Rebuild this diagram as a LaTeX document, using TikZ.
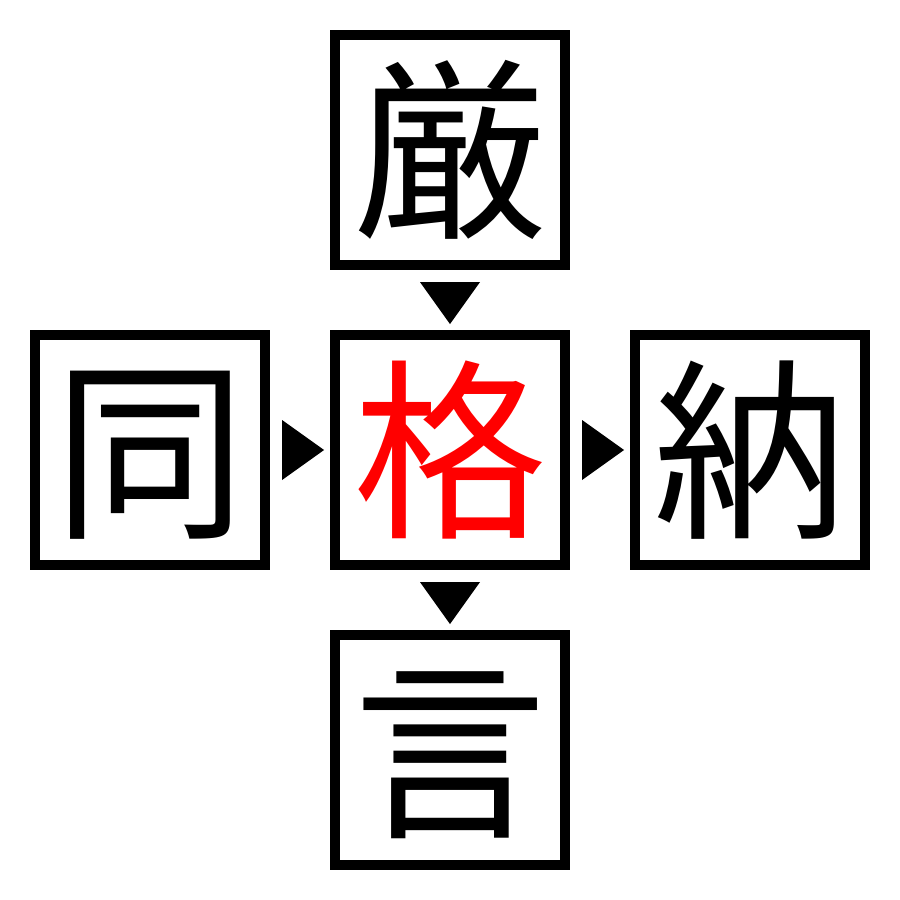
\documentclass[tikz,border=0pt]{standalone}
\usepackage{fontspec}
\usetikzlibrary{calc}
\newfontfamily\cjk{Noto Sans CJK JP}
\begin{document}
\begin{tikzpicture}[x=0.01cm,y=-0.01cm,
  kbox/.style={draw=black,line width=0.1cm,minimum size=2.3cm,inner sep=0pt,outer sep=0pt,
    font=\cjk\fontsize{55}{55}\selectfont,text height=48.4pt,text depth=6.6pt},
  tri/.style={fill=black,draw=none}]
\useasboundingbox (0,0) rectangle (900,900);
\node[kbox] (t) at (450,150) {厳};
\node[kbox] (l) at (150,450) {同};
\node[kbox,text=red] (c) at (450,450) {格};
\node[kbox] (r) at (750,450) {納};
\node[kbox] (b) at (450,750) {言};
\fill[tri] ($(t.south)+(-30,17)$) -- ($(t.south)+(30,17)$) -- ($(t.south)+(0,59)$) -- cycle;
\fill[tri] ($(c.south)+(-30,17)$) -- ($(c.south)+(30,17)$) -- ($(c.south)+(0,59)$) -- cycle;
\fill[tri] ($(l.east)+(17,-30)$) -- ($(l.east)+(17,30)$) -- ($(l.east)+(59,0)$) -- cycle;
\fill[tri] ($(c.east)+(17,-30)$) -- ($(c.east)+(17,30)$) -- ($(c.east)+(59,0)$) -- cycle;
\end{tikzpicture}
\end{document}
